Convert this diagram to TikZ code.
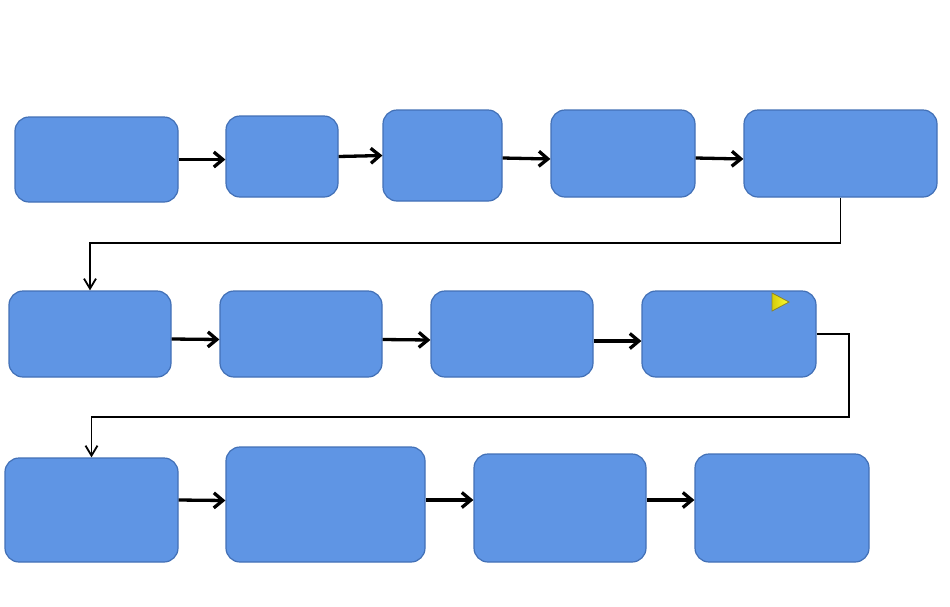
\documentclass[tikz,border=0pt]{standalone}
\usepackage{tikz}
\usetikzlibrary{shapes,arrows,arrows.meta,positioning}

\definecolor{boxblue}{RGB}{95,149,228}
\definecolor{boxedge}{RGB}{66,112,182}
\definecolor{tri}{RGB}{214,204,10}

\tikzset{
    blk/.style={draw=boxedge, line width=1.2pt, fill=boxblue, rounded corners=14pt, inner sep=0pt},
    flow/.style={-{Straight Barb[length=9pt,width=15pt]}, line width=3.3pt},
    link/.style={-{Straight Barb[length=10pt,width=12pt]}, line width=1.8pt}
}

\begin{document}
\begin{tikzpicture}[x=1pt, y=-1pt]
    \useasboundingbox (0,0) rectangle (950,606);

    % first row
    \node[blk, minimum width=163pt, minimum height=85pt] (a1) at (96.5,159.5) {};
    \node[blk, minimum width=112pt, minimum height=81pt] (a2) at (282,156.5) {};
    \node[blk, minimum width=119pt, minimum height=91pt] (a3) at (442.5,155.5) {};
    \node[blk, minimum width=144pt, minimum height=87pt] (a4) at (623,153.5) {};
    \node[blk, minimum width=193pt, minimum height=87pt] (a5) at (840.5,153.5) {};

    % second row
    \node[blk, minimum width=162pt, minimum height=86pt] (b1) at (90,334) {};
    \node[blk, minimum width=162pt, minimum height=86pt] (b2) at (301,334) {};
    \node[blk, minimum width=162pt, minimum height=86pt] (b3) at (512,334) {};
    \node[blk, minimum width=174pt, minimum height=86pt] (b4) at (729,334) {};

    % third row
    \node[blk, minimum width=173pt, minimum height=104pt] (c1) at (91.5,510) {};
    \node[blk, minimum width=199pt, minimum height=115pt] (c2) at (325.5,504.5) {};
    \node[blk, minimum width=172pt, minimum height=108pt] (c3) at (560,508) {};
    \node[blk, minimum width=174pt, minimum height=108pt] (c4) at (782,508) {};

    \draw[flow] (a1.east) -- (a1.east -| a2.west);
    \draw[flow] (a2.east) -- (a3.west);
    \draw[flow] ([yshift=-2.5pt]a3.east) -- ([yshift=-5.5pt]a4.west);
    \draw[flow] ([yshift=-4.5pt]a4.east) -- ([yshift=-5.5pt]a5.west);

    \draw[flow] ([yshift=-5pt]b1.east) -- ([yshift=-5.5pt]b2.west);
    \draw[flow] ([yshift=-5.5pt]b2.east) -- ([yshift=-6pt]b3.west);
    \draw[flow] ([yshift=-7pt]b3.east) -- ([yshift=-7pt]b4.west);

    \draw[flow] ([yshift=10pt]c1.east) -- ([yshift=4pt]c2.west);
    \draw[flow] ([yshift=4.5pt]c2.east) -- ([yshift=8pt]c3.west);
    \draw[flow] ([yshift=8pt]c3.east) -- ([yshift=8pt]c4.west);

    \coordinate (turn1) at (841,243);
    \coordinate (turn2) at (849,417);
    \draw[link] (a5.south) -- (a5.south |- turn1) -| (b1.north);
    \draw[link] (b4.east) -| (turn2) -| (c1.north);

    \filldraw[draw=olive!70!gray, line width=0.8pt, left color=tri, right color=yellow!80!white]
        (772,293) -- (789,302) -- (772,311) -- cycle;
\end{tikzpicture}
\end{document}
